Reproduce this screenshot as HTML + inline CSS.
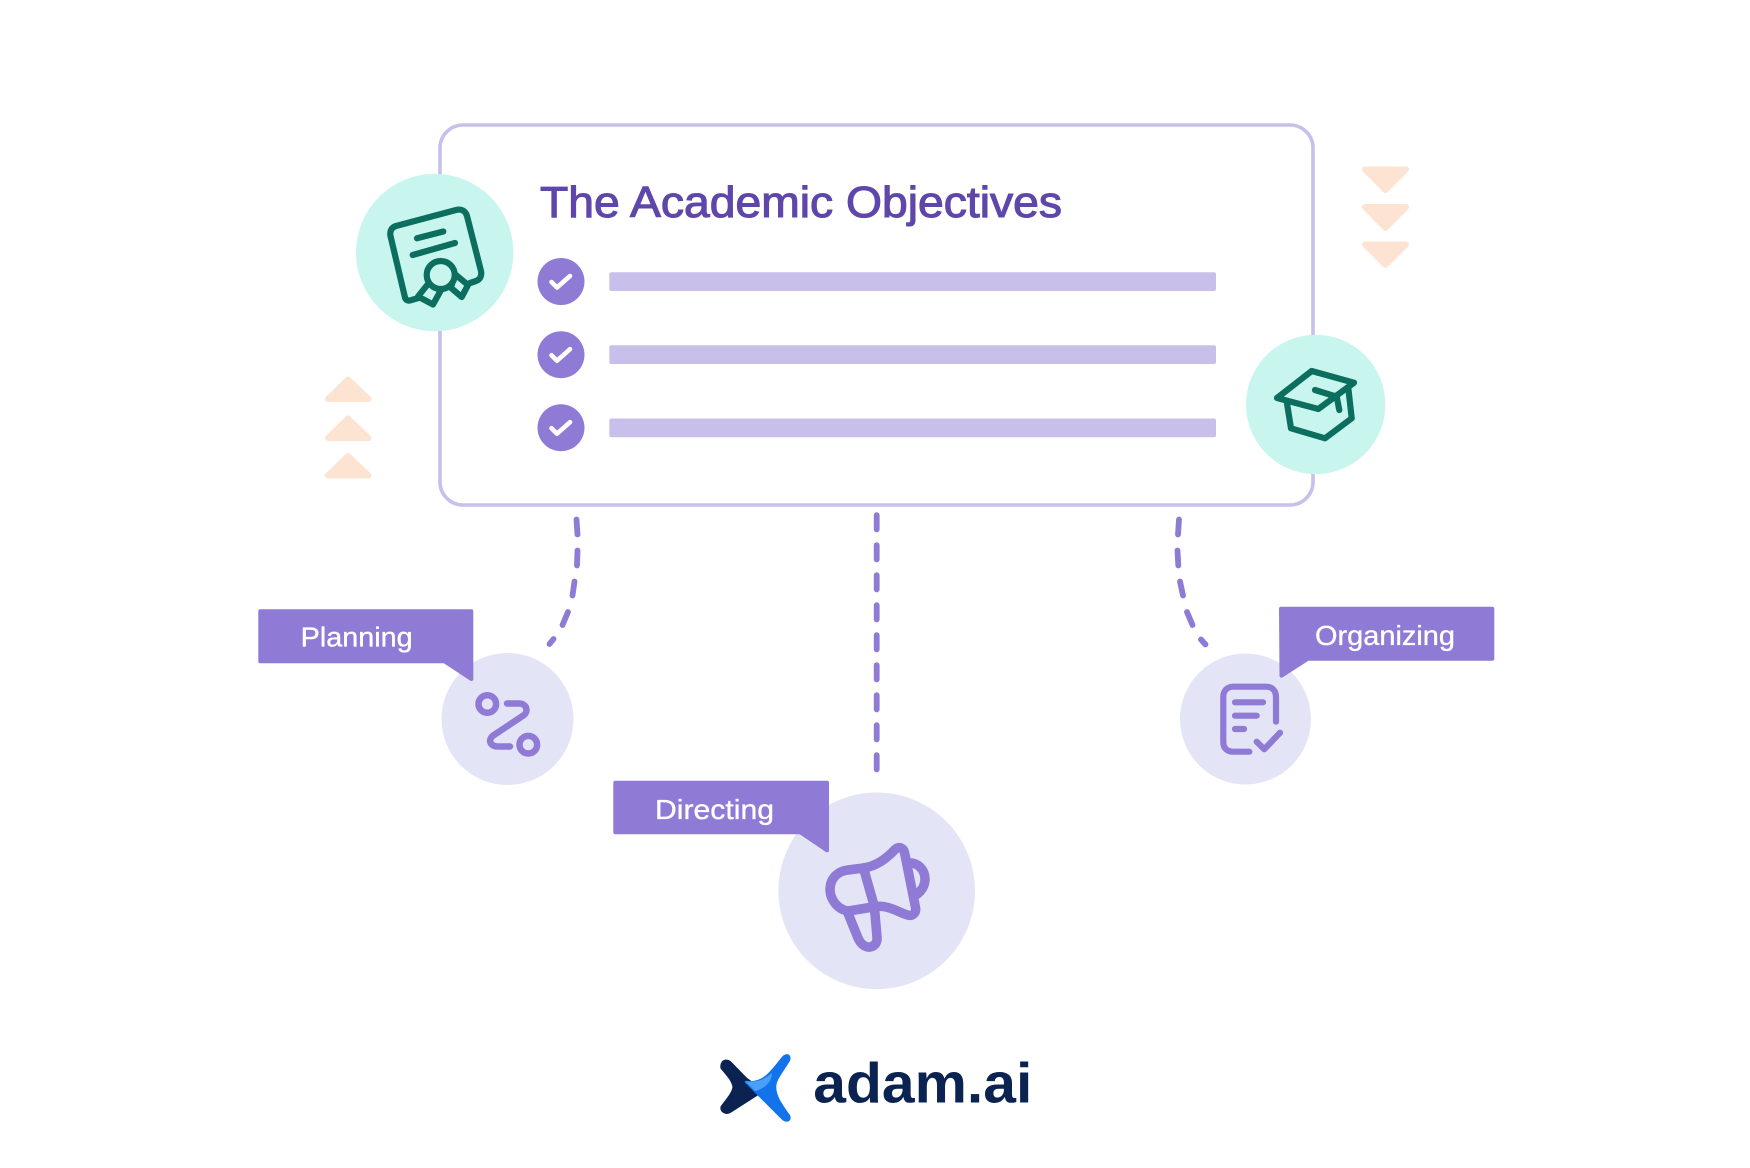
<!DOCTYPE html>
<html lang="en">
<head>
<meta charset="utf-8">
<title>The Academic Objectives</title>
<style>
html,body{margin:0;padding:0;background:#fff;width:1750px;height:1168px;overflow:hidden}
svg{display:block}
text{font-family:"Liberation Sans",sans-serif}
</style>
</head>
<body>
<svg width="1750" height="1168" viewBox="0 0 1750 1168" xmlns="http://www.w3.org/2000/svg">
<rect width="1750" height="1168" fill="#fff"/>

<!-- card -->
<rect x="440" y="125" width="873" height="380" rx="23" fill="#fff" stroke="#c8c0ea" stroke-width="3.6"/>

<!-- title -->
<text x="540" y="217" font-size="44" fill="#5f46ab" stroke="#5f46ab" stroke-width="1.1" textLength="522" lengthAdjust="spacingAndGlyphs">The Academic Objectives</text>

<!-- checks + bars -->
<g fill="#8f7ad6">
<circle cx="561" cy="281.500" r="23.500"/>
<circle cx="561" cy="354.700" r="23.500"/>
<circle cx="561" cy="427.700" r="23.500"/>
</g>
<g fill="none" stroke="#fff" stroke-width="4.600" stroke-linecap="round" stroke-linejoin="round">
<path d="M551.500 282l5.500 5.500 13-11.500"/>
<path d="M551.500 355.200l5.500 5.500 13-11.500"/>
<path d="M551.500 428.200l5.500 5.500 13-11.500"/>
</g>
<g fill="#c8c0ea">
<rect x="609.300" y="272.300" width="606.700" height="18.700" rx="2"/>
<rect x="609.300" y="345.300" width="606.700" height="18.700" rx="2"/>
<rect x="609.300" y="418.500" width="606.700" height="18.700" rx="2"/>
</g>

<!-- certificate badge -->
<circle cx="434.700" cy="252.500" r="78.700" fill="#c9f5ef"/>
<g fill="none" stroke="#0b6e5f" stroke-width="6.200" stroke-linecap="round" stroke-linejoin="round">
<path d="M420 297.500L410 300.500C407 301 405.500 299.500 405 297.500L390.500 236C389.500 231 391.500 227.500 396 226L456 210C461.500 208.500 465.500 211 467 216L481 271C482 276 480 279.500 476 281L470 283"/>
<path d="M417 238.300L443.300 231.500"/>
<path d="M412.700 255L455 243"/>
<circle cx="440.700" cy="275" r="14"/>
<path d="M428 284L418 296.500L433 304.500L440.500 291"/>
<path d="M452 284.500L450 287L461.700 297L468 285L456 275"/>
</g>

<!-- graduation badge -->
<circle cx="1315.700" cy="404.500" r="69.700" fill="#c9f5ef"/>
<g fill="none" stroke="#0b6e5f" stroke-width="6.200" stroke-linecap="round" stroke-linejoin="round">
<path d="M1277 398L1311.700 371L1354 382.700L1318.300 409Z"/>
<path d="M1287 403.500L1291 428.300L1325 438.300L1351.700 418.300L1348.300 388"/>
<path d="M1315 390L1336.700 396.700L1339.300 410"/>
</g>

<!-- decorative triangles -->
<g fill="#fde3d2" stroke="#fde3d2" stroke-width="6" stroke-linejoin="round">
<path d="M328 399L348 379.500L368.500 399Z"/>
<path d="M328 438L348 418.500L368.500 438Z"/>
<path d="M328 475.500L348 456L368.500 475.500Z"/>
<path d="M1365 169.500H1406L1385.500 190Z"/>
<path d="M1365 207H1406L1385.500 228Z"/>
<path d="M1365 244.500H1406L1385.500 265Z"/>
</g>

<!-- dashed connectors -->
<g fill="none" stroke="#8f7ad6" stroke-width="5.800" stroke-linecap="round">
<path d="M876.700 515.200v14.300M876.700 545.200v14.300M876.700 575.200v14.300M876.700 605.200v14.300M876.700 635.200v14.300M876.700 665.200v14.300M876.700 695.200v14.300M876.700 725.200v14.300M876.700 755.200v14.300"/>
<path d="M576.500 519.500L577.500 534.500M577.500 550.500L577 565.500M574.500 581.500L572.500 595.500M568 612L562.500 625M553.500 639L549.500 644"/>
<path d="M1179 519.500L1178 534.500M1177.500 550.500L1178.300 565.500M1180 581.500L1183 595.500M1187 612L1192.500 625M1201 639.500L1205.500 644.500"/>
</g>

<!-- circles -->
<circle cx="507.500" cy="719" r="66" fill="#e4e4f7"/>
<circle cx="1245.500" cy="719" r="65.500" fill="#e4e4f7"/>
<circle cx="876.700" cy="890.800" r="98.300" fill="#e4e4f7"/>

<!-- planning icon -->
<g fill="none" stroke="#8f7ad6" stroke-width="6.500" stroke-linecap="round" stroke-linejoin="round">
<circle cx="487.300" cy="704" r="8.800"/>
<circle cx="528.300" cy="744.700" r="8.800"/>
<path d="M507 703.500H519C526 703.500 529 710.500 524 715L492.500 736C487.500 741 491 746.500 498 746.500H510"/>
</g>

<!-- organizing icon -->
<g fill="none" stroke="#8f7ad6" stroke-width="6.200" stroke-linecap="round" stroke-linejoin="round">
<path d="M1249.300 751.700H1233.500C1227 751.700 1223.300 748 1223.300 742V697C1223.300 691 1227 686.700 1233.500 686.700H1266C1272.500 686.700 1276 691 1276 697V721.700"/>
<path d="M1235 702.300H1263M1235 715.700H1256.700M1235 729H1244"/>
<path d="M1256.700 741.700L1264.300 749.300L1280 732.700"/>
</g>

<!-- megaphone icon -->
<g fill="none" stroke="#8f7ad6" stroke-width="9.500" stroke-linecap="round" stroke-linejoin="round">
<path d="M863.500 868C877 866 888 857 895 849.500C899 846 903.500 848 904.500 852.500L915.500 907.500C916.500 913 912.500 916.500 907.500 915C898 912 888 905 876 906.500L848.500 911C838 910 830.500 900 830 890C830 878 838 871 848 870Z"/>
<path d="M863.500 868L874.500 907"/>
<path d="M847.500 912L858 938C861 945 866 947.500 870 947C875.500 946 877.500 942 877 937L874.500 908"/>
<path d="M908 863C918 862 925 870 925 879C925 887 920 893 914 896"/>
</g>

<!-- labels -->
<g fill="#8f7ad6" stroke="#8f7ad6" stroke-width="4" stroke-linejoin="round">
<path d="M260.300 611.300H471.300V679L444.500 661.300H260.300Z"/>
<path d="M1281 608.700H1492.300V658.700H1308L1281.500 675.700Z"/>
<path d="M615.300 782.700H827V850.300L800.500 832.300H615.300Z"/>
</g>
<g fill="#fff" stroke="#fff" stroke-width=".35" font-size="28">
<text x="300.700" y="646.700" textLength="112" lengthAdjust="spacingAndGlyphs">Planning</text>
<text x="1315" y="645" textLength="140" lengthAdjust="spacingAndGlyphs">Organizing</text>
<text x="655" y="819" textLength="119" lengthAdjust="spacingAndGlyphs">Directing</text>
</g>

<!-- logo -->
<path d="M723 1062.500C725 1060.500 728 1060.500 730.500 1063L746 1079L762 1091L730 1111.500C726 1114 721 1111 722 1107C727 1100 733 1094 734 1087C733 1080 727 1074 722 1068C721.500 1066 722 1064 723 1062.500Z" fill="#0b2350" stroke="#0b2350" stroke-width="3" stroke-linejoin="round"/>
<path d="M784 1056.500C787.500 1054 790 1056 789 1060C782 1072 775 1079 775 1087C775 1097 782 1106 789 1116C790.500 1120 787 1122 783 1119L746 1082C765 1085 773 1069 784 1056.500Z" fill="#1273ea" stroke="#1273ea" stroke-width="2.500" stroke-linejoin="round"/>
<path d="M745 1081C757 1083 765 1079 772 1073C772 1083 762 1090 755 1091Z" fill="#4aa0f8"/>
<text x="813.300" y="1102.300" font-size="57" font-weight="700" fill="#0b2350" textLength="219" lengthAdjust="spacingAndGlyphs">adam.ai</text>
</svg>
</body>
</html>
